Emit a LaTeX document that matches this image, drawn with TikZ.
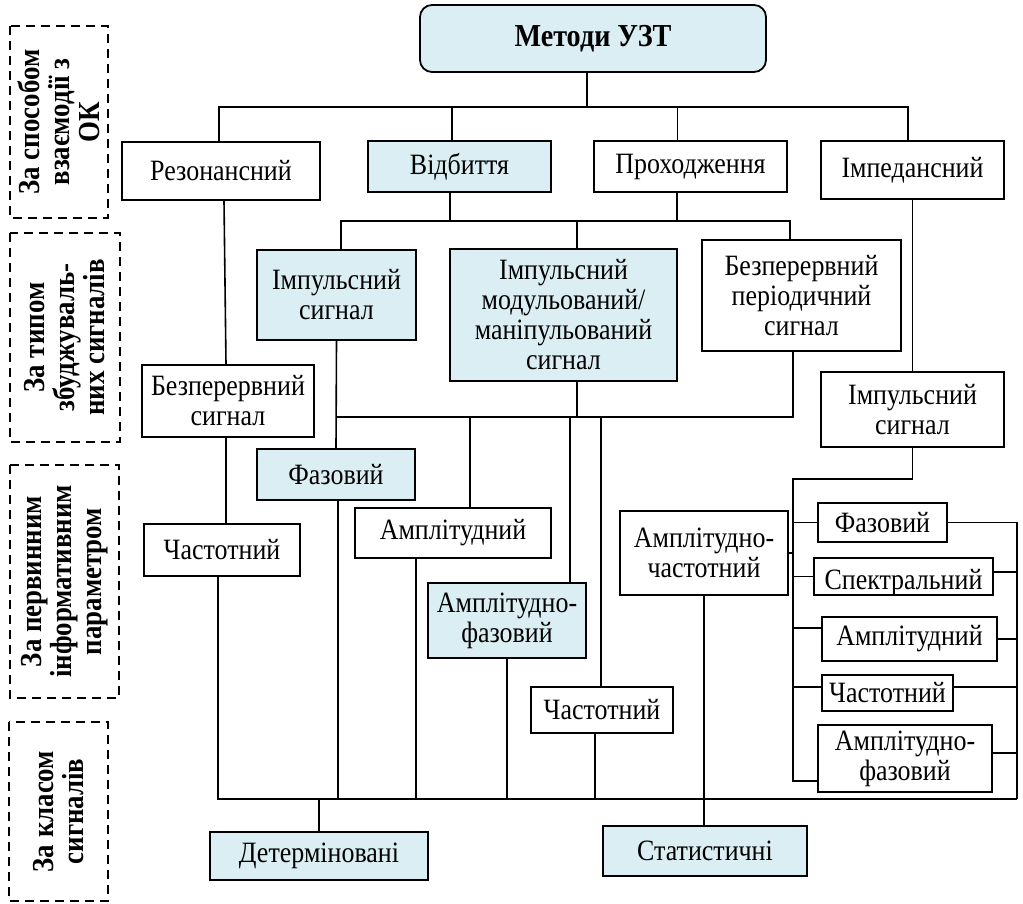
\documentclass[tikz,border=0pt]{standalone}
\usepackage{fontspec}
\setmainfont[FakeStretch=0.88]{Liberation Serif}
\definecolor{lb}{HTML}{DAEEF3}
\begin{document}
\begin{tikzpicture}[x=1pt,y=-1pt,
  box/.style={draw, line width=1.8pt, fill=white, align=center, inner sep=0pt, font=\fontsize{29.5pt}{30pt}\selectfont},
  bbox/.style={box, fill=lb},
  ln/.style={line width=1.6pt},
  side/.style={draw, dash pattern=on 9pt off 6pt, line width=1.6pt, align=center, rotate=90, inner sep=0pt, font=\fontsize{30.5pt}{30pt}\selectfont\bfseries},
]
\useasboundingbox (0,0) rectangle (1023,904);

% side labels
\node[side, minimum width=192pt, minimum height=98pt] (s1) at (59,122) {За способом\\взаємодії з\\ОК};
\node[side, minimum width=209pt, minimum height=110pt] (s2) at (65,337.5) {За типом\\збуджуваль-\\них сигналів};
\node[side, minimum width=233pt, minimum height=109pt] (s3) at (64.5,581.5) {За первинним\\інформативним\\параметром};
\node[side, minimum width=179pt, minimum height=99pt] (s4) at (58.5,811.5) {За класом\\сигналів};

% boxes
\node[bbox, rounded corners=12pt, minimum width=346pt, minimum height=67pt, font=\fontsize{32pt}{34pt}\selectfont\bfseries] (metody) at (593,38.5) {Методи УЗТ};
\node[box, minimum width=198pt, minimum height=58pt] (res) at (221,171) {Резонансний};
\node[bbox, minimum width=183pt, minimum height=51pt] (vidb) at (459.5,166.5) {Відбиття};
\node[box, minimum width=193pt, minimum height=51pt] (prokh) at (690.5,166.5) {Проходження};
\node[box, minimum width=183pt, minimum height=58pt] (imped) at (912.5,170) {Імпедансний};

\node[bbox, minimum width=159pt, minimum height=90pt] (imps) at (336.5,295) {Імпульсний\\сигнал};
\node[bbox, minimum width=227pt, minimum height=132pt] (impmod) at (563.5,315) {Імпульсний\\модульований/\\маніпульований\\сигнал};
\node[box, minimum width=199pt, minimum height=111pt] (bpp) at (801.5,295.5) {Безперервний\\періодичний\\сигнал};
\node[box, minimum width=172pt, minimum height=72pt] (bs) at (228,401) {Безперервний\\сигнал};
\node[box, minimum width=183pt, minimum height=75pt] (impR) at (912.5,409.5) {Імпульсний\\сигнал};

\node[bbox, minimum width=158pt, minimum height=51pt] (faz) at (336,474.5) {Фазовий};
\node[box, minimum width=156pt, minimum height=52pt] (chL) at (222,550) {Частотний};
\node[box, minimum width=196pt, minimum height=50pt] (ampl) at (453,533) {Амплітудний};
\node[bbox, minimum width=158pt, minimum height=75pt] (ampf) at (507,620.5) {Амплітудно-\\фазовий};
\node[box, minimum width=142pt, minimum height=46pt] (chM) at (602,710) {Частотний};
\node[box, minimum width=168pt, minimum height=84pt] (amch) at (704,553) {Амплітудно-\\частотний};

\node[box, minimum width=129pt, minimum height=39pt] (fazR) at (882.5,522.5) {Фазовий};
\node[box, minimum width=179pt, minimum height=37pt, text height=26pt, text depth=0pt] (spec) at (903.5,576.5) {Спектральний};
\node[box, minimum width=175pt, minimum height=44pt] (amplR) at (909.5,639) {Амплітудний};
\node[box, minimum width=131pt, minimum height=36pt] (chR) at (887.5,693) {Частотний};
\node[box, minimum width=174pt, minimum height=67pt] (ampfR) at (905,758.5) {Амплітудно-\\фазовий};

\node[bbox, minimum width=218pt, minimum height=48pt] (det) at (319,856) {Детерміновані};
\node[bbox, minimum width=204pt, minimum height=50pt] (stat) at (705,851) {Статистичні};

% top bus
\coordinate (t0) at (587,107);
\coordinate (rN) at ([xshift=-2pt]res.north);
\coordinate (iN) at ([xshift=-4.5pt]imped.north);
\draw[ln] (rN) -- (rN |- t0) -- (iN |- t0) -- (iN);
\draw[ln] (metody.south -| t0) -- (t0);
\coordinate (vN) at ([xshift=-7.5pt]vidb.north);
\draw[ln] (vN) -- (vN |- t0);
\coordinate (pN) at ([xshift=-13pt]prokh.north);
\draw[ln] (pN) -- (pN |- t0);

% second bus
\coordinate (b2L) at (341,221);
\coordinate (b2R) at (790,221);
\draw[ln] (imps.north -| b2L) -- (b2L) -- (b2R) -- (bpp.north -| b2R);
\coordinate (vS) at ([xshift=-9.5pt]vidb.south);
\draw[ln] (vS) -- (vS |- b2L);
\coordinate (pS) at ([xshift=-13.5pt]prokh.south);
\draw[ln] (pS) -- (pS |- b2L);
\coordinate (mN) at ([xshift=13.5pt]impmod.north);
\draw[ln] (mN) -- (mN |- b2L);

% resonance branch
\draw[ln] ([xshift=3pt]res.south) -- ([xshift=-2pt]bs.north);
\coordinate (bsS) at ([xshift=-2pt]bs.south);
\draw[ln] (bsS) -- (bsS |- chL.north);
\draw[ln] (imped.south) -- (impR.north);

% third bus
\coordinate (b3L) at (337,417);
\coordinate (b3R) at (793,417);
\draw[ln] (imps.south) -- (faz.north);
\draw[ln] (b3L) -- (b3R) -- (bpp.south -| b3R);
\coordinate (mS) at ([xshift=13.5pt]impmod.south);
\draw[ln] (mS) -- (mS |- b3L);
\coordinate (aN) at ([xshift=17pt]ampl.north);
\draw[ln] (aN) -- (aN |- b3L);
\coordinate (afN) at ([xshift=63pt]ampf.north);
\draw[ln] (afN) -- (afN |- b3L);
\coordinate (cN) at ([xshift=-1pt]chM.north);
\draw[ln] (cN) -- (cN |- b3L);

% bottom bus
\coordinate (bb) at (1017,799);
\draw[ln] ([xshift=-4pt]chL.south) |- (bb);
\coordinate (fS) at ([xshift=2pt]faz.south);
\draw[ln] (fS) -- (fS |- bb);
\coordinate (aS) at ([xshift=-37pt]ampl.south);
\draw[ln] (aS) -- (aS |- bb);
\draw[ln] (ampf.south) -- (ampf.south |- bb);
\coordinate (cS) at ([xshift=-7pt]chM.south);
\draw[ln] (cS) -- (cS |- bb);
\draw[ln] (amch.south) -- (amch.south |- stat.north);
\draw[ln] (det.north) -- (det.north |- bb);

% right cluster, left bus
\coordinate (rbT) at (793,479);
\coordinate (rbB) at (793,782);
\draw[ln] (impR.south) |- (rbT) -- (rbB);
\draw[ln] (fazR.west -| rbT) -- (fazR.west);
\draw[ln] (amch.east) -- (amch.east -| rbT);
\draw[ln] (spec.west -| rbT) -- (spec.west);
\coordinate (aL) at ([yshift=11pt]amplR.west);
\draw[ln] (aL -| rbT) -- (aL);
\coordinate (chLl) at ([yshift=6pt]chR.west);
\draw[ln] (chLl -| rbT) -- (chLl);
\coordinate (afL) at ([yshift=-22.5pt]ampfR.west);
\draw[ln] (afL -| rbT) -- (afL);

% right cluster, right bus
\draw[ln] (fazR.east) -- (fazR.east -| bb) -- (bb);
\coordinate (sR) at ([yshift=4.5pt]spec.east);
\draw[ln] (sR) -- (sR -| bb);
\draw[ln] (amplR.east) -- (amplR.east -| bb);
\coordinate (cR) at ([yshift=6pt]chR.east);
\draw[ln] (cR) -- (cR -| bb);
\coordinate (afR) at ([yshift=5.5pt]ampfR.east);
\draw[ln] (afR) -- (afR -| bb);
\end{tikzpicture}
\end{document}
